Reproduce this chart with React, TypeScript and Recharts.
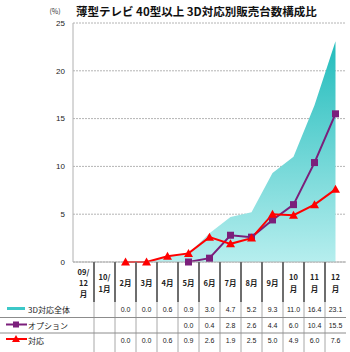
import { ComposedChart, Area, Line, XAxis, YAxis, CartesianGrid } from "recharts";

const categories = ["09/12月", "10/1月", "2月", "3月", "4月", "5月", "6月", "7月", "8月", "9月", "10月", "11月", "12月"];
const tickLines = [
  ["09/", "12", "月"],
  ["10/", "1月"],
  ["2月"],
  ["3月"],
  ["4月"],
  ["5月"],
  ["6月"],
  ["7月"],
  ["8月"],
  ["9月"],
  ["10", "月"],
  ["11", "月"],
  ["12", "月"],
];
const total3d = [null, null, 0.0, 0.0, 0.6, 0.9, 3.0, 4.7, 5.2, 9.3, 11.0, 16.4, 23.1];
const option = [null, null, null, null, null, 0.0, 0.4, 2.8, 2.6, 4.4, 6.0, 10.4, 15.5];
const taiou = [null, null, 0.0, 0.0, 0.6, 0.9, 2.6, 1.9, 2.5, 5.0, 4.9, 6.0, 7.6];
const yTicks = [0, 5, 10, 15, 20, 25];

const data = categories.map((c, i) => ({
  cat: c,
  total3d: total3d[i],
  option: option[i],
  taiou: taiou[i],
}));

const W = 350;
const H = 352;
const LEFT = 73;
const RIGHT = 4;
const TOP = 23;
const AXIS_H = 90;
const BW = (W - LEFT - RIGHT) / categories.length;

const JP = '"Noto Sans CJK JP", sans-serif';
const NUM = '"Liberation Sans", "Noto Sans CJK JP", sans-serif';

const PURPLE = "#7b1f7b";
const RED = "#ff0000";

const fmt = (v: number | null) => (v == null ? "" : v.toFixed(1));

function TableTick(props: any) {
  const { x, y, payload } = props;
  const i = payload.index;
  const lines = tickLines[i];
  const mid = y + 20.5;
  const rows = [total3d[i], option[i], taiou[i]];
  const rowY = [309, 325, 340].map((v) => v - 262 + y);
  return (
    <g>
      {i > 0 && (
        <>
          <line x1={x - BW / 2} x2={x - BW / 2} y1={y} y2={y + 40} stroke="#6e6e6e" strokeWidth={2} />
          <line x1={x - BW / 2} x2={x - BW / 2} y1={y + 40} y2={H} stroke="#a8a8a8" strokeWidth={1} />
        </>
      )}
      {lines.map((t, k) => (
        <text
          key={k}
          x={x}
          y={mid + (k - (lines.length - 1) / 2) * 11.3}
          textAnchor="middle"
          dominantBaseline="central"
          fontSize={7.5}
          fontWeight={700}
          fontFamily={JP}
          fill="#222"
        >
          {t}
        </text>
      ))}
      {rows.map((v, k) => (
        <text
          key={"v" + k}
          x={x}
          y={rowY[k]}
          textAnchor="middle"
          dominantBaseline="central"
          fontSize={7}
          fontFamily={NUM}
          fill="#222"
        >
          {fmt(v)}
        </text>
      ))}
    </g>
  );
}

function SquareDot(p: any) {
  if (p.cy == null || p.value == null) return <g key={p.index} />;
  return <rect key={p.index} x={p.cx - 3.5} y={p.cy - 3.5} width={7} height={7} fill={PURPLE} />;
}

function TriangleDot(p: any) {
  if (p.cy == null || p.value == null) return <g key={p.index} />;
  const { cx, cy } = p;
  return <polygon key={p.index} points={`${cx},${cy - 4.5} ${cx + 4.5},${cy + 3.5} ${cx - 4.5},${cy + 3.5}`} fill={RED} />;
}

export default function App() {
  return (
    <div style={{ position: "relative", width: W, height: H, background: "#fff" }}>
      <style>{"body{margin:0}"}</style>
      <ComposedChart width={W} height={H} data={data} margin={{ top: TOP, right: RIGHT, left: 0, bottom: 0 }}>
        <defs>
          <linearGradient id="tealFill" x1="0" y1="0" x2="0" y2="1">
            <stop offset="0%" stopColor="#22bcbc" />
            <stop offset="100%" stopColor="#b6eeee" />
          </linearGradient>
        </defs>
        <CartesianGrid vertical={false} stroke="#b4b4b4" strokeDasharray="2 1" />
        <XAxis
          dataKey="cat"
          scale="band"
          height={AXIS_H}
          interval={0}
          tickSize={0}
          tickMargin={0}
          tickLine={false}
          axisLine={{ stroke: "#b0b0b0" }}
          tick={<TableTick />}
        />
        <YAxis
          width={LEFT}
          domain={[0, 25]}
          ticks={yTicks}
          tickLine={false}
          tickMargin={2}
          axisLine={{ stroke: "#b0b0b0" }}
          tick={{ fontSize: 8, fill: "#222", fontFamily: NUM }}
        />
        <Area dataKey="total3d" stroke="none" fill="url(#tealFill)" fillOpacity={1} isAnimationActive={false} />
        <Line dataKey="option" stroke={PURPLE} strokeWidth={2} dot={<SquareDot />} activeDot={false} isAnimationActive={false} />
        <Line dataKey="taiou" stroke={RED} strokeWidth={2} dot={<TriangleDot />} activeDot={false} isAnimationActive={false} />
      </ComposedChart>
      <svg width={W} height={H} style={{ position: "absolute", left: 0, top: 0, pointerEvents: "none" }}>
        <text x={76} y={11} dominantBaseline="central" fontSize={11.5} fontWeight={700} fontFamily={JP} fill="#111">
          薄型テレビ 40型以上 3D対応別販売台数構成比
        </text>
        <text x={55} y={11} textAnchor="middle" dominantBaseline="central" fontSize={7} fontFamily={JP} fill="#333">
          (%)
        </text>
        <line x1={0} x2={W - RIGHT} y1={317.5} y2={317.5} stroke="#8c8c8c" />
        <line x1={0} x2={W - RIGHT} y1={333} y2={333} stroke="#8c8c8c" />
        <line x1={7} x2={25} y1={308.5} y2={308.5} stroke="#3cc8c8" strokeWidth={3} />
        <line x1={6} x2={27} y1={324.5} y2={324.5} stroke={PURPLE} strokeWidth={2} />
        <rect x={13} y={321.5} width={6} height={6} fill={PURPLE} />
        <line x1={6} x2={27} y1={339} y2={339} stroke={RED} strokeWidth={2} />
        <polygon points="16,335 20,342 12,342" fill={RED} />
        {["3D対応全体", "オプション", "対応"].map((t, k) => (
          <text key={t} x={28} y={[309, 325, 340][k]} dominantBaseline="central" fontSize={8} fontFamily={JP} fill="#222">
            {t}
          </text>
        ))}
      </svg>
    </div>
  );
}
